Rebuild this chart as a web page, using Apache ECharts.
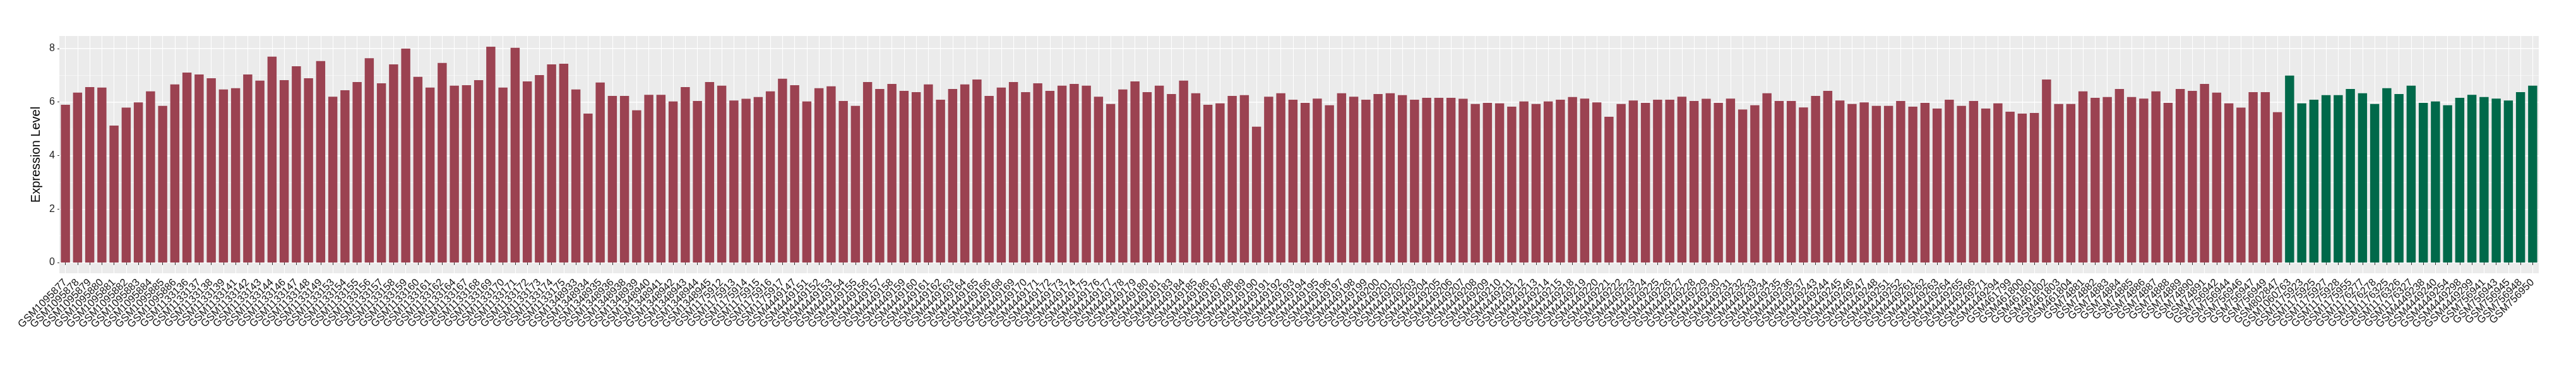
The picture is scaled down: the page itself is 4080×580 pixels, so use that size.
<!DOCTYPE html>
<html>
<head>
<meta charset="utf-8">
<script src="https://cdn.jsdelivr.net/npm/echarts@6/dist/echarts.min.js"></script>
<style>
  html, body { margin: 0; padding: 0; background: #fff; }
  #chart { width: 4080px; height: 580px; }
</style>
</head>
<body>
<div id="chart"></div>
<script>
// samples of the first group (red bars)
var redSamples = [
  "GSM1095877","GSM1095878","GSM1095879","GSM1095880","GSM1095881","GSM1095882","GSM1095883","GSM1095884","GSM1095885","GSM1095886",
  "GSM1133136","GSM1133137","GSM1133138","GSM1133139","GSM1133141","GSM1133142","GSM1133143","GSM1133144","GSM1133146","GSM1133147",
  "GSM1133148","GSM1133149","GSM1133153","GSM1133154","GSM1133155","GSM1133156","GSM1133157","GSM1133158","GSM1133159","GSM1133160",
  "GSM1133161","GSM1133162","GSM1133164","GSM1133167","GSM1133168","GSM1133169","GSM1133170","GSM1133171","GSM1133172","GSM1133173",
  "GSM1133174","GSM1133175","GSM1348933","GSM1348934","GSM1348935","GSM1348936","GSM1348938","GSM1348939","GSM1348940","GSM1348941",
  "GSM1348942","GSM1348943","GSM1348944","GSM1348945","GSM1175912","GSM1175913","GSM1175914","GSM1175915","GSM1175916","GSM1175917",
  "GSM4449147","GSM4449151","GSM4449152","GSM4449153","GSM4449154","GSM4449155","GSM4449156","GSM4449157","GSM4449158","GSM4449159",
  "GSM4449160","GSM4449161","GSM4449162","GSM4449163","GSM4449164","GSM4449165","GSM4449166","GSM4449168","GSM4449169","GSM4449170",
  "GSM4449171","GSM4449172","GSM4449173","GSM4449174","GSM4449175","GSM4449176","GSM4449177","GSM4449178","GSM4449179","GSM4449180",
  "GSM4449181","GSM4449183","GSM4449184","GSM4449185","GSM4449186","GSM4449187","GSM4449188","GSM4449189","GSM4449190","GSM4449191",
  "GSM4449192","GSM4449193","GSM4449194","GSM4449195","GSM4449196","GSM4449197","GSM4449198","GSM4449199","GSM4449200","GSM4449201",
  "GSM4449202","GSM4449203","GSM4449204","GSM4449205","GSM4449206","GSM4449207","GSM4449208","GSM4449209","GSM4449210","GSM4449211",
  "GSM4449212","GSM4449213","GSM4449214","GSM4449215","GSM4449218","GSM4449219","GSM4449220","GSM4449221","GSM4449222","GSM4449223",
  "GSM4449224","GSM4449225","GSM4449226","GSM4449227","GSM4449228","GSM4449229","GSM4449230","GSM4449231","GSM4449232","GSM4449233",
  "GSM4449234","GSM4449235","GSM4449236","GSM4449237","GSM4449243","GSM4449244","GSM4449245","GSM4449246","GSM4449247","GSM4449248",
  "GSM4449251","GSM4449252","GSM4449261","GSM4449262","GSM4449263","GSM4449264","GSM4449265","GSM4449266","GSM4449271","GSM4449294",
  "GSM461799","GSM461800","GSM461801","GSM461802","GSM461803","GSM461804","GSM74881","GSM74882","GSM74883","GSM74884",
  "GSM74885","GSM74886","GSM74887","GSM74888","GSM74889","GSM74890","GSM74891","GSM756942","GSM756944","GSM756946",
  "GSM756947","GSM756949","GSM802847"
];
var redValues = [
  5.90, 6.35, 6.56, 6.54, 5.12, 5.79, 5.99, 6.40, 5.86, 6.66, 7.10, 7.03, 6.89,
  6.47, 6.52, 7.03, 6.80, 7.70, 6.82, 7.34, 6.89, 7.53, 6.20, 6.44, 6.75, 7.64, 6.70, 7.41, 8.00, 6.94, 6.54,
  7.46, 6.61, 6.63, 6.82, 8.07, 6.54, 8.03, 6.77, 7.01, 7.41, 7.43, 6.47, 5.57, 6.73, 6.23, 6.23, 5.69,
  6.27, 6.27, 6.02, 6.56, 6.04, 6.75, 6.61, 6.06, 6.12, 6.19, 6.40, 6.87, 6.63, 6.02, 6.52, 6.59, 6.04, 5.86,
  6.75, 6.49, 6.68, 6.42, 6.37, 6.66, 6.09, 6.49, 6.66, 6.84, 6.23, 6.54, 6.75, 6.37, 6.70, 6.42, 6.61, 6.68,
  6.61, 6.20, 5.93, 6.47, 6.77, 6.37, 6.61, 6.30, 6.80, 6.33, 5.90, 5.95, 6.23, 6.26, 5.08, 6.20, 6.33,
  6.09, 5.97, 6.13, 5.88, 6.33, 6.20, 6.09, 6.30, 6.33, 6.26, 6.09, 6.16, 6.16, 6.16, 6.12, 5.93, 5.97, 5.95,
  5.83, 6.02, 5.93, 6.02, 6.09, 6.19, 6.13, 5.99, 5.45, 5.93, 6.06, 5.97, 6.09, 6.09, 6.20, 6.04, 6.12, 5.97,
  6.13, 5.72, 5.88, 6.33, 6.04, 6.04, 5.80, 6.23, 6.42, 6.06, 5.93, 5.99, 5.86, 5.86, 6.04, 5.83, 5.97,
  5.76, 6.09, 5.86, 6.04, 5.76, 5.95, 5.64, 5.57, 5.59, 6.84, 5.93, 5.93, 6.40, 6.16, 6.19, 6.49, 6.19, 6.13,
  6.40, 5.97, 6.49, 6.42, 6.68, 6.35, 5.95, 5.79, 6.37, 6.37, 5.62
];

// samples of the second group (green bars)
var greenSamples = [
  "GSM1060763","GSM1175923","GSM1175925","GSM1175927","GSM1175928","GSM1175955","GSM1176277","GSM1176278","GSM1176325","GSM1176326",
  "GSM1176327","GSM4449238","GSM4449240","GSM4449254","GSM4449298","GSM4449299","GSM756941","GSM756943","GSM756945","GSM756948",
  "GSM756950"
];
var greenValues = [
  6.99, 5.95, 6.09, 6.26, 6.26, 6.49, 6.33, 5.93, 6.52, 6.30,
  6.61, 5.97, 6.02, 5.88, 6.16, 6.27, 6.19, 6.13, 6.06, 6.37,
  6.61
];

var yMajorTicks = [0, 2, 4, 6, 8];
var yMinorTicks = [1, 3, 5, 7];

var redColor = "#9B4251";
var greenColor = "#00694A";

var categories = redSamples.concat(greenSamples);
var barData = [];
redValues.forEach(function (v) {
  barData.push({ value: v, itemStyle: { color: redColor } });
});
greenValues.forEach(function (v) {
  barData.push({ value: v, itemStyle: { color: greenColor } });
});

var font = "Liberation Sans, Arial, sans-serif";

var myChart = echarts.init(document.getElementById("chart"));
var option = {
  animation: false,
  backgroundColor: "#fff",
  grid: {
    left: 94,
    right: 59,
    top: 57,
    bottom: 147,
    show: true,
    backgroundColor: "#EBEBEB",
    borderWidth: 0,
    outerBoundsMode: "none"
  },
  xAxis: {
    type: "category",
    data: categories,
    axisLine: { show: false },
    axisTick: {
      show: true,
      alignWithLabel: true,
      interval: 0,
      length: 4,
      lineStyle: { color: "#333", width: 1 }
    },
    axisLabel: {
      interval: 0,
      rotate: 45,
      margin: 12,
      fontSize: 16.5,
      fontFamily: font,
      color: "#111"
    },
    splitLine: {
      show: true,
      interval: 0,
      alignWithLabel: true,
      lineStyle: { color: "#fff", width: 1 }
    }
  },
  yAxis: [
    {
      type: "value",
      min: -0.4,
      max: 8.47,
      name: "Expression Level",
      nameLocation: "middle",
      nameGap: 9,
      nameTextStyle: { fontSize: 20, fontFamily: font, color: "#000" },
      axisLine: { show: false },
      axisTick: {
        show: true,
        length: 3,
        customValues: yMajorTicks,
        lineStyle: { color: "#333", width: 1 }
      },
      axisLabel: {
        customValues: yMajorTicks,
        margin: 7,
        fontSize: 16,
        fontFamily: font,
        color: "#222"
      },
      splitLine: { show: true, lineStyle: { color: "#fff", width: 1.5 } }
    },
    {
      type: "value",
      min: -0.4,
      max: 8.47,
      position: "right",
      axisLine: { show: false },
      axisTick: { show: false, customValues: yMinorTicks },
      axisLabel: { show: false, customValues: yMinorTicks },
      splitLine: { show: true, lineStyle: { color: "#F5F5F5", width: 1 } }
    }
  ],
  series: [
    {
      type: "bar",
      yAxisIndex: 0,
      barWidth: "75%",
      data: barData
    }
  ]
};
myChart.setOption(option);
</script>
</body>
</html>
